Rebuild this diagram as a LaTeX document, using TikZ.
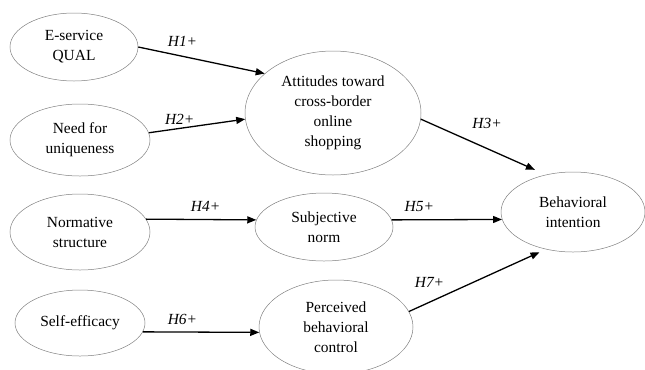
\documentclass[tikz,border=0pt]{standalone}
\usepackage{fontspec}
\setmainfont{Liberation Serif}
\usetikzlibrary{shapes.geometric,arrows.meta}

\begin{document}
\begin{tikzpicture}[x=1bp,y=-1bp,>={Triangle[length=9bp,width=7bp]},
    every node/.style={font=\fontsize{15.5}{20}\selectfont},
    construct/.style={ellipse,draw=gray,line width=0.5bp,inner sep=0pt,align=center},
    link/.style={->,line width=1.3bp},
    hyp/.style={font=\fontsize{15.5}{20}\selectfont\itshape,inner sep=0pt}]
    \useasboundingbox (0,0) rectangle (645,369);
    \node[construct,minimum width=128bp,minimum height=68bp] (1) at (74,47) {E-service\\QUAL};
    \node[construct,minimum width=140bp,minimum height=72bp] (2) at (80,140) {Need for\\uniqueness};
    \node[construct,minimum width=176bp,minimum height=124bp] (3) at (333,113) {Attitudes toward\\cross-border\\online\\shopping};
    \node[construct,minimum width=140bp,minimum height=76bp] (4) at (80,232) {Normative\\structure};
    \node[construct,minimum width=138bp,minimum height=68bp] (5) at (324,227) {Subjective\\norm};
    \node[construct,minimum width=130bp,minimum height=66bp] (6) at (80,323) {Self-efficacy};
    \node[construct,minimum width=154bp,minimum height=94bp] (7) at (336,327) {Perceived\\behavioral\\control};
    \node[construct,minimum width=144bp,minimum height=80bp] (8) at (573,212) {Behavioral\\intention};
    \draw[link] (1.east) -- node[hyp,pos=.35,above=9bp] {H1+} (3.150);
    \draw[link] (2.6) -- node[hyp,pos=.32,above=3bp] {H2+} (3.184);
    \draw[link,shorten >=12bp] (3.356) -- node[hyp,pos=.53,above=19bp] {H3+} (8.126);
    \draw[link] (4.11) -- node[hyp,pos=.54,above=7.5bp] {H4+} (5.174);
    \draw[link] (5.6) -- node[hyp,pos=.25,above=7.5bp] {H5+} (8.186);
    \draw[link] (6.352) -- node[hyp,pos=.34,above=6.5bp] {H6+} (7.184);
    \draw[link,shorten >=7bp] (7.12) -- node[hyp,pos=.15,above=14.5bp] {H7+} (8.234);
\end{tikzpicture}
\end{document}
